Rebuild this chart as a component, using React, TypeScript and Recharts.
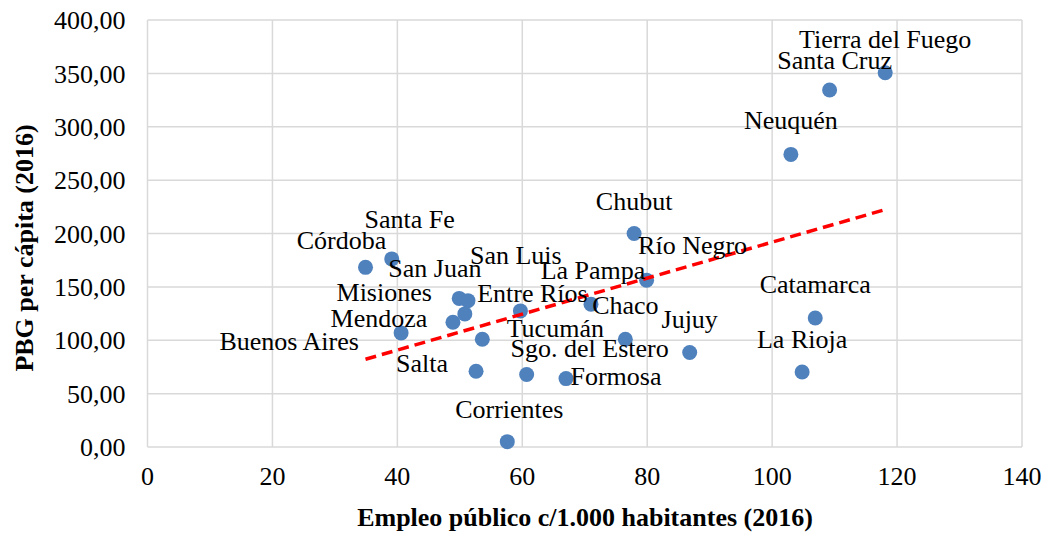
import React from 'react';
import {
    ScatterChart,
    Scatter,
    XAxis,
    YAxis,
    CartesianGrid,
} from 'recharts';

const provincias = [
    'Tierra del Fuego', 'Santa Cruz', 'Neuquén', 'Chubut', 'Río Negro', 'Catamarca',
    'La Rioja', 'Jujuy', 'Chaco', 'La Pampa', 'Entre Ríos', 'Tucumán', 'Salta',
    'Sgo. del Estero', 'Formosa', 'Corrientes', 'Córdoba', 'Santa Fe', 'Buenos Aires',
    'Mendoza', 'Misiones', 'San Juan', 'San Luis',
];
const empleoPublico = [
    118.1, 109.2, 103.0, 77.9, 79.9, 106.9,
    104.8, 86.8, 76.5, 71.0, 59.7, 53.6, 52.6,
    60.7, 67.0, 57.6, 34.9, 39.1, 40.6,
    48.9, 49.9, 51.3, 50.8,
];
const pbgPerCapita = [
    350.6, 334.4, 274.1, 200.0, 156.3, 120.9,
    70.3, 88.5, 100.9, 133.8, 127.5, 101.0, 71.0,
    67.9, 64.1, 5.0, 168.3, 176.2, 106.9,
    116.8, 139.2, 137.1, 124.7,
];
const xTicks = [0, 20, 40, 60, 80, 100, 120, 140];
const yTicks = [0, 50, 100, 150, 200, 250, 300, 350, 400];

// where each label sits relative to its dot (centre x, baseline y)
const labelOffsets: Record<string, [number, number]> = {
    'Tierra del Fuego': [0, -25],
    'Santa Cruz': [5, -21],
    'Neuquén': [0, -25],
    'Chubut': [0, -24],
    'Río Negro': [46, -26],
    'Catamarca': [0, -25],
    'La Rioja': [0, -24],
    'Jujuy': [0, -25],
    'Chaco': [0, -25],
    'La Pampa': [2, -25],
    'Entre Ríos': [12, -9],
    'Tucumán': [73, -2],
    'Salta': [-54, 1],
    'Sgo. del Estero': [63, -18],
    'Formosa': [50, 6],
    'Corrientes': [2, -24],
    'Córdoba': [-24, -18],
    'Santa Fe': [18, -31],
    'Buenos Aires': [-112, 17],
    'Mendoza': [-74, 5],
    'Misiones': [-75, 3],
    'San Juan': [-33, -24],
    'San Luis': [51, -50],
};

const FONT = '"Liberation Serif", "Times New Roman", serif';

const data = provincias.map((name, i) => ({ name, x: empleoPublico[i], y: pbgPerCapita[i] }));

// linear trendline (least squares), like Excel's
const n = empleoPublico.length;
const meanX = empleoPublico.reduce((a, b) => a + b, 0) / n;
const meanY = pbgPerCapita.reduce((a, b) => a + b, 0) / n;
let sxy = 0;
let sxx = 0;
for (let i = 0; i < n; i++) {
    sxy += (empleoPublico[i] - meanX) * (pbgPerCapita[i] - meanY);
    sxx += (empleoPublico[i] - meanX) ** 2;
}
const slope = sxy / sxx;
const intercept = meanY - slope * meanX;
const xMin = Math.min(...empleoPublico);
const xMax = Math.max(...empleoPublico);
const trend = [
    { x: xMin, y: intercept + slope * xMin },
    { x: xMax, y: intercept + slope * xMax },
];

const fmtY = (v: number) => v.toFixed(2).replace('.', ',');

const Dot = (props: any) => <circle cx={props.cx} cy={props.cy} r={7.5} fill="#4F81BD" />;

const Label = (props: any) => {
    const name = props.payload?.name as string;
    const [dx, dy] = labelOffsets[name] || [0, -25];
    return (
        <text
            x={props.cx + dx}
            y={props.cy + dy}
            textAnchor="middle"
            fontFamily={FONT}
            fontSize={26}
            fill="#000"
        >
            {name}
        </text>
    );
};

export default function App() {
    return (
        <div style={{ position: 'absolute', left: 0, top: 0, width: 1047, height: 534, background: '#fff' }}>
            <ScatterChart width={1047} height={534} margin={{ top: 20, right: 25, bottom: 0, left: 0 }}>
                <CartesianGrid stroke="#d9d9d9" strokeWidth={1.5} />
                <XAxis
                    type="number"
                    dataKey="x"
                    domain={[0, 140]}
                    ticks={xTicks}
                    height={87}
                    axisLine={false}
                    tickLine={false}
                    tickSize={0}
                    tickMargin={20}
                    tick={{ fill: '#000', fontSize: 26, fontFamily: FONT }}
                    label={{
                        content: () => (
                            <text x={585} y={526} textAnchor="middle" fontFamily={FONT} fontSize={26} fontWeight="bold" fill="#000">
                                Empleo público c/1.000 habitantes (2016)
                            </text>
                        ),
                    }}
                />
                <YAxis
                    type="number"
                    dataKey="y"
                    domain={[0, 400]}
                    ticks={yTicks}
                    width={147.5}
                    axisLine={false}
                    tickLine={false}
                    tickSize={0}
                    tickMargin={22}
                    tickFormatter={fmtY}
                    tick={{ fill: '#000', fontSize: 26, fontFamily: FONT }}
                    label={{
                        content: () => (
                            <text
                                x={33}
                                y={248}
                                transform="rotate(-90, 33, 248)"
                                textAnchor="middle"
                                fontFamily={FONT}
                                fontSize={26}
                                fontWeight="bold"
                                fill="#000"
                            >
                                PBG per cápita (2016)
                            </text>
                        ),
                    }}
                />
                <Scatter data={data} shape={Dot} isAnimationActive={false} />
                <Scatter
                    data={trend}
                    line={{ stroke: '#FF0000', strokeWidth: 3.5, strokeDasharray: '11 6' }}
                    shape={() => <g />}
                    isAnimationActive={false}
                />
                <Scatter data={data} shape={Label} isAnimationActive={false} />
            </ScatterChart>
        </div>
    );
}
